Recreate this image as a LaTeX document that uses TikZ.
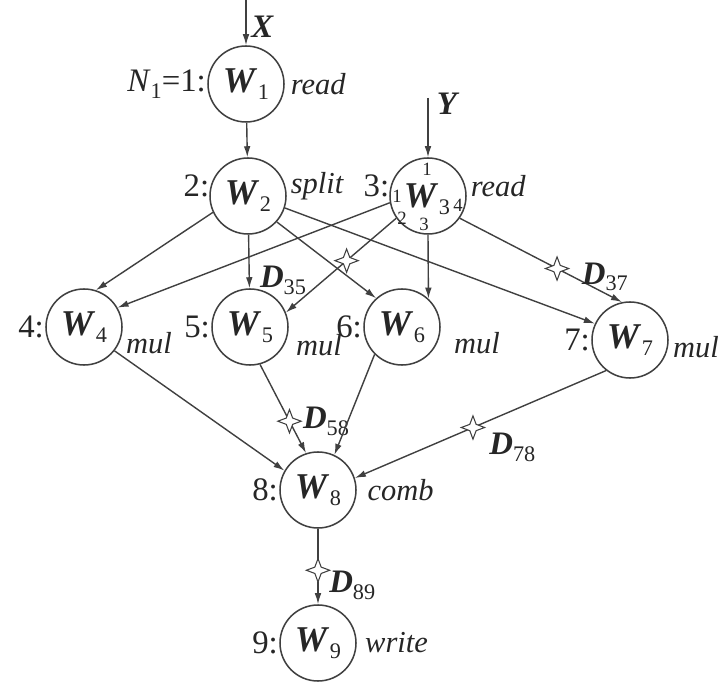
\documentclass[tikz,border=0pt]{standalone}
\usepackage{fontspec}
\setmainfont{Liberation Serif}
\usetikzlibrary{arrows.meta, positioning, shapes.geometric, calc}
\tikzset{
  wn/.style  ={circle, draw=black!75, line width=1.3pt, minimum size=2.28cm, inner sep=0pt, text=black!85, font=\fontsize{31}{34}\selectfont},
  lb/.style  ={font=\fontsize{26}{30}\selectfont\itshape, text=black!85, inner sep=1pt},
  nm/.style  ={font=\fontsize{28}{32}\selectfont, text=black!85, inner sep=1pt},
  prt/.style ={font=\fontsize{16}{18}\selectfont, text=black!85, inner sep=0pt},
  fl/.style  ={-{Latex[length=3.3mm,width=2mm]}, draw=black!75, line width=1.2pt},
  strk/.style={star, star points=4, star point ratio=2.6, draw=black!75, fill=white, minimum size=7mm, inner sep=0pt, line width=0.9pt},
  dl/.style  ={font=\fontsize{28}{32}\selectfont, text=black!85, inner sep=1pt},
}
\newcommand{\Wn}[1]{\textbf{\textit{W}}\kern0.5pt\raisebox{-0.45ex}{\fontsize{19}{21}\selectfont #1}}
\newcommand{\Dn}[1]{\textbf{\textit{D}}\raisebox{-0.45ex}{\fontsize{19}{21}\selectfont #1}}

\begin{document}
\begin{tikzpicture}[x=0.03cm, y=-0.03cm]
  \useasboundingbox (0,0) rectangle (723,684);
  % task nodes
  \node[wn] (w1) at (246,84)  {\Wn{1}};
  \node[wn] (w2) at (248,196) {\Wn{2}};
  \node[wn] (w3) at (428,196) {};
  \node[wn] (w4) at (84,327)  {\Wn{4}};
  \node[wn] (w5) at (250,327) {\Wn{5}};
  \node[wn] (w6) at (402,327) {\Wn{6}};
  \node[wn] (w7) at (630,340) {\Wn{7}};
  \node[wn] (w8) at (318,490) {\Wn{8}};
  \node[wn] (w9) at (318,643) {\Wn{9}};
  % W3 with its ports
  \node[font=\fontsize{31}{34}\selectfont, text=black!85, inner sep=0pt] (w3t) at ($(w3)+(-1,3)$) {\Wn{3}};
  \node[prt] (p1a) at ($(w3)+(-1,-27)$) {1};
  \node[prt] (p1b) at ($(w3)+(-31,0)$)  {1};
  \node[prt] (p2)  at ($(w3)+(-26,22)$) {2};
  \node[prt] (p3)  at ($(w3)+(-4,28)$)  {3};
  \node[prt] (p4)  at ($(w3)+(30,9)$)   {4};
  % numbers and operations
  \node[nm, left=0pt of w1] (n1) {\textit{N}\raisebox{-0.45ex}{\fontsize{19}{21}\selectfont 1}=1:};
  \node[lb, right=4pt of w1] (o1) {read};
  \node[nm, anchor=east] (n2) at (w2.165) {2:};
  \node[lb, anchor=west] (o2) at ($(w2.15)+(4,0)$) {split};
  \node[nm, anchor=east] (n3) at (w3.165) {3:};
  \node[lb, anchor=west] (o3) at ($(w3.15)+(4,0)$) {read};
  \node[nm, left=0pt of w4] (n4) {4:};
  \node[lb, anchor=west] (o4) at ($(w4.east)+(2,16)$) {mul};
  \node[nm, left=0pt of w5] (n5) {5:};
  \node[lb, anchor=west] (o5) at ($(w5.east)+(6,18)$) {mul};
  \node[nm, left=0pt of w6] (n6) {6:};
  \node[lb, anchor=west] (o6) at ($(w6.east)+(12,16)$) {mul};
  \node[nm, left=0pt of w7] (n7) {7:};
  \node[lb, anchor=west] (o7) at ($(w7.east)+(3,7)$) {mul};
  \node[nm, left=0pt of w8] (n8) {8:};
  \node[lb, right=8pt of w8] (o8) {comb};
  \node[nm, left=0pt of w9] (n9) {9:};
  \node[lb, right=6pt of w9] (o9) {write};
  % inputs
  \coordinate (xin) at (246,0);
  \coordinate (yin) at (428,98);
  \draw[fl] (xin) -- node[nm, right=3pt, pos=0.6] {\textbf{\textit{X}}} (w1);
  \draw[fl] (yin) -- node[nm, right=6pt, pos=0.1] {\textbf{\textit{Y}}} (w3);
  % arcs
  \draw[fl] (w1) -- (w2);
  \draw[fl] (w2.205) -- (w4.72);
  \draw[fl] (w2) -- (w5);
  \draw[fl] (w2.318) -- (w6.132);
  \draw[fl] (w2.342) -- (w7.155);
  \draw[fl] (w3.190) -- (w4.30);
  \draw[fl] (w3.215) -- node[strk, pos=0.45] {} (w5.22);
  \node[dl] (d35) at (283,280) {\Dn{35}};
  \draw[fl] (w3.south) -- (w6.47);
  \draw[fl] (w3.325) -- node[strk, pos=0.6] (s37) {} (w7.102);
  \node[dl, anchor=west, xshift=0.7cm, yshift=-0.25cm] (d37) at (s37) {\Dn{37}};
  \draw[fl] (w4.322) -- (w8.150);
  \draw[fl] (w5.285) -- node[strk, pos=0.64] {} node[dl, pos=0.64, right=10pt] {\Dn{58}} (w8.108);
  \draw[fl] (w6.225) -- (w8.65);
  \draw[fl] (w7.232) -- node[strk, pos=0.53] (s78) {} (w8.18);
  \node[dl, anchor=west, xshift=0.45cm, yshift=-0.6cm] (d78) at (s78) {\Dn{78}};
  \draw[fl] (w8) -- node[strk, pos=0.55] {} node[dl, pos=0.75, right=8pt] {\Dn{89}} (w9);
\end{tikzpicture}
\end{document}
